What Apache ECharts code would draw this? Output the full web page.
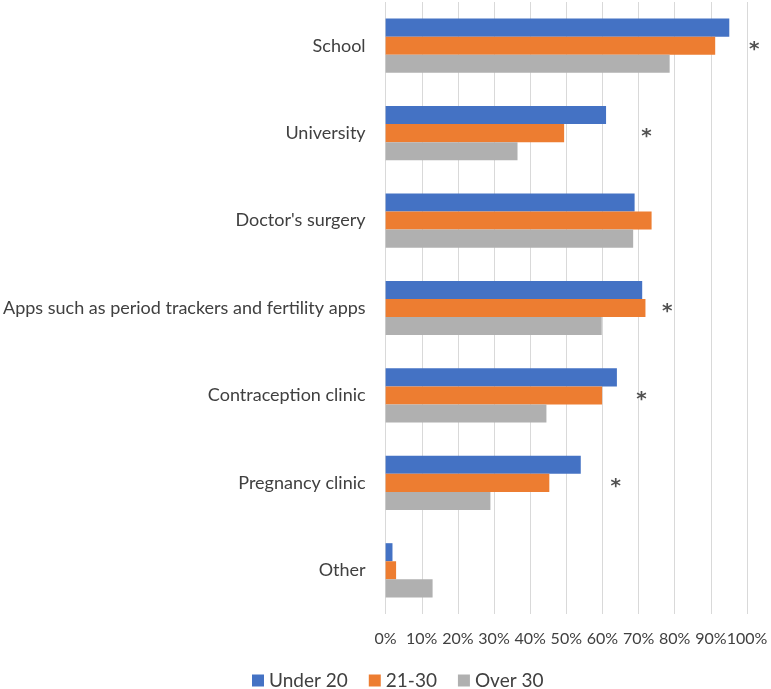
<!DOCTYPE html>
<html>
<head>
<meta charset="utf-8">
<script src="https://cdn.jsdelivr.net/npm/echarts@6/dist/echarts.min.js"></script>
<style>html,body{margin:0;padding:0;background:#fff;}#c{width:771px;height:689px;}</style>
</head>
<body>
<div id="c"></div>
<script>
var categories = ["School", "University", "Doctor's surgery", "Apps such as period trackers and fertility apps", "Contraception clinic", "Pregnancy clinic", "Other"];
var under20 = [95.1, 61.0, 68.9, 71.0, 64.0, 54.0, 1.9];
var age21to30 = [91.2, 49.4, 73.6, 71.9, 59.9, 45.3, 2.9];
var over30 = [78.6, 36.5, 68.5, 59.8, 44.5, 29.0, 13.0];
var asteriskCats = ["School", "University", "Apps such as period trackers and fertility apps", "Contraception clinic", "Pregnancy clinic"];
var asteriskX = [102, 72.2, 77.9, 70.8, 63.7];
var xTicks = [0, 10, 20, 30, 40, 50, 60, 70, 80, 90, 100];

var font = 'Lato';
var chart = echarts.init(document.getElementById('c'));
var starData = asteriskCats.map(function (c, i) { return [asteriskX[i], c]; });
chart.setOption({
  animation: false,
  textStyle: { fontFamily: font },
  grid: { left: 382, right: 24, top: 2, height: 612, containLabel: false },
  legend: {
    left: 247, top: 666,
    icon: 'rect', itemWidth: 12, itemHeight: 12, itemGap: 21,
    textStyle: { fontSize: 19, color: '#404040', fontFamily: font },
    data: ['Under 20', '21-30', 'Over 30']
  },
  xAxis: {
    type: 'value', min: xTicks[0], max: xTicks[xTicks.length - 1], interval: 10,
    axisLine: { show: false }, axisTick: { show: false },
    splitLine: { lineStyle: { color: '#d9d9d9', width: 1 } },
    axisLabel: { formatter: '{value}%', fontSize: 16, color: '#404040', margin: 17, fontFamily: font,
      showMinLabel: true, showMaxLabel: true, hideOverlap: false }
  },
  yAxis: {
    type: 'category', data: categories, inverse: true,
    axisLine: { show: false }, axisTick: { show: false },
    axisLabel: { fontSize: 18, color: '#404040', margin: 20, fontFamily: font }
  },
  series: [
    { name: 'Under 20', type: 'bar', data: under20, barGap: '0%', barCategoryGap: '38%', itemStyle: { color: '#4472C4' } },
    { name: '21-30', type: 'bar', data: age21to30, barGap: '0%', barCategoryGap: '38%', itemStyle: { color: '#ED7D31' } },
    { name: 'Over 30', type: 'bar', data: over30, barGap: '0%', barCategoryGap: '38%', itemStyle: { color: '#B0B0B0' } },
    { name: 'sig', type: 'scatter', data: starData, symbolSize: 1, clip: false,
      itemStyle: { color: 'rgba(0,0,0,0)' },
      label: { show: true, position: 'inside', formatter: '*', fontSize: 20, color: '#262626', fontWeight: 'bold', fontFamily: 'DejaVu Sans', offset: [0, 4] } }
  ]
});
</script>
</body>
</html>
